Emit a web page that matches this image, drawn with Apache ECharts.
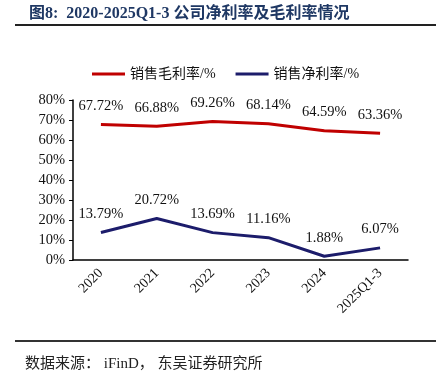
<!DOCTYPE html>
<html lang="zh">
<head>
    <meta charset="UTF-8" />
    <title>公司净利率及毛利率情况</title>
    <script src="https://cdn.jsdelivr.net/npm/echarts@6/dist/echarts.min.js"></script>
    <style>
        html, body { margin: 0; padding: 0; background: #fff; }
        #main { width: 436px; height: 390px; }
    </style>
</head>
<body>
    <div id="main"></div>
    <script>
        // 数据
        var categories = ["2020", "2021", "2022", "2023", "2024", "2025Q1-3"];
        var grossMargin = [67.72, 66.88, 69.26, 68.14, 64.59, 63.36]; // 销售毛利率
        var netMargin = [13.79, 20.72, 13.69, 11.16, 1.88, 6.07];     // 销售净利率

        var serif = "'Liberation Serif', 'Noto Sans CJK SC', serif";

        var chart = echarts.init(document.getElementById("main"));

        // 数据标签统一样式
        var labelCfg = {
            show: true,
            position: "top",
            distance: 11,
            formatter: function (p) { return p.value.toFixed(2) + "%"; },
            fontFamily: serif,
            fontSize: 14.5,
            color: "#111"
        };

        var option = {
            animation: false,
            title: {
                text: "图8:  2020-2025Q1-3 公司净利率及毛利率情况",
                left: 24,
                top: 1,
                textStyle: {
                    fontFamily: serif,
                    fontWeight: "bold",
                    fontSize: 16,
                    color: "#1f3864"
                }
            },
            graphic: [
                { type: "rect", shape: { x: 15, y: 24, width: 421, height: 2 }, style: { fill: "#222" } },
                { type: "rect", shape: { x: 15, y: 340, width: 421, height: 2 }, style: { fill: "#333" } },
                {
                    type: "text", left: 25, top: 357,
                    style: { text: "数据来源： iFinD， 东吴证券研究所", font: "15px " + serif, fill: "#222" }
                }
            ],
            legend: {
                top: 62,
                left: 87,
                itemWidth: 33,
                itemHeight: 3,
                itemGap: 20,
                icon: "rect",
                textStyle: { fontFamily: serif, fontSize: 14, color: "#111" },
                data: ["销售毛利率/%", "销售净利率/%"]
            },
            grid: { left: 73, right: 28, top: 100, bottom: 130 },
            xAxis: {
                type: "category",
                data: categories,
                boundaryGap: true,
                axisLine: { lineStyle: { color: "#000", width: 1.5 } },
                axisTick: { show: false },
                axisLabel: {
                    rotate: 45,
                    margin: 11,
                    fontFamily: serif,
                    fontSize: 14,
                    color: "#111",
                    interval: 0
                }
            },
            yAxis: {
                type: "value",
                min: 0,
                max: 80,
                interval: 10,
                axisLine: { show: true, lineStyle: { color: "#000", width: 1.5 } },
                axisTick: { show: true, length: 4, lineStyle: { color: "#000" } },
                splitLine: { show: false },
                axisLabel: {
                    formatter: "{value}%",
                    fontFamily: serif,
                    fontSize: 14.5,
                    color: "#111",
                    margin: 8
                }
            },
            series: [
                {
                    name: "销售毛利率/%",
                    type: "line",
                    data: grossMargin,
                    symbol: "circle",
                    symbolSize: 0,
                    lineStyle: { color: "#c00000", width: 3 },
                    itemStyle: { color: "#c00000" },
                    label: labelCfg
                },
                {
                    name: "销售净利率/%",
                    type: "line",
                    data: netMargin,
                    symbol: "circle",
                    symbolSize: 0,
                    lineStyle: { color: "#1c1c6b", width: 3 },
                    itemStyle: { color: "#1c1c6b" },
                    label: labelCfg
                }
            ]
        };

        chart.setOption(option);
    </script>
</body>
</html>
